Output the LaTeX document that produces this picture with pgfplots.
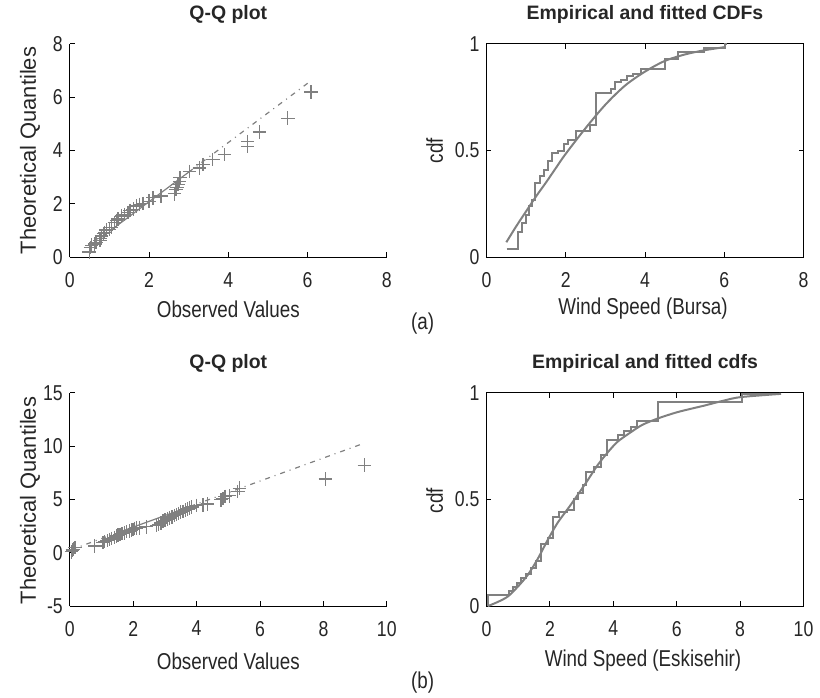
\documentclass[border=0pt]{standalone}
\usepackage{fontspec}
\setmainfont{Liberation Sans}
\newfontfamily\condensed{Liberation Sans}[FakeStretch=0.82]
\usepackage{pgfplots}
\pgfplotsset{compat=1.18}
\definecolor{Gry}{HTML}{808080}

\pgfplotsset{
  panel/.style={scale only axis,width=159pt,height=107pt,anchor=south west,clip=false,
    tick align=inside,major tick length=2.5pt,
    axis line style={line width=0.5pt,black},
    every tick/.style={black,line width=0.5pt},
    tick label style={font=\condensed\fontsize{10.8}{12}\selectfont,text=black!85},
    xticklabel style={yshift=-4pt},
    /pgf/number format/assume math mode=true},
  qq/.style={panel,axis x line*=bottom,axis y line*=left},
  cdf/.style={panel,xtick pos=both,ytick pos=both,ymin=0,ymax=1,ytick={0,0.5,1},
    yticklabels={0,0.5,1}},
  cross/.style={only marks,mark=+,mark size=3.4pt,Gry,mark options={line width=0.65pt}},
  refl/.style={Gry,line width=0.6pt,dash pattern=on 2.5pt off 2.5pt on 0.5pt off 2.5pt},
  fit/.style={Gry,line width=1pt,smooth,no marks},
  emp/.style={Gry,line width=1pt,const plot,no marks}
}

\pgfplotstableread{
x y
0.49 0.19
0.52 0.37
0.55 0.45
0.63 0.50
0.66 0.56
0.76 0.62
0.77 0.70
0.80 0.80
0.85 0.88
0.88 0.93
0.92 1.02
1.00 1.05
1.05 1.12
1.13 1.30
1.18 1.38
1.22 1.43
1.30 1.55
1.38 1.60
1.47 1.67
1.52 1.75
1.60 1.80
1.68 1.92
1.76 1.98
1.85 2.02
2.00 2.10
2.10 2.23
2.30 2.30
2.64 2.38
2.68 2.55
2.70 2.62
2.73 2.73
2.77 2.85
2.78 2.98
3.02 3.22
3.27 3.35
3.36 3.47
3.61 3.66
3.90 3.85
4.49 4.16
4.49 4.34
4.79 4.69
5.50 5.21
6.09 6.20
}\qqa

\pgfplotstableread{
x y
0.05 0.10
0.08 0.25
0.12 0.34
0.16 0.50
0.79 0.65
1.05 0.95
1.10 1.05
1.18 1.15
1.25 1.25
1.32 1.35
1.40 1.45
1.47 1.57
1.52 1.65
1.58 1.72
1.65 1.80
1.73 1.88
1.80 1.98
1.88 2.05
1.95 2.12
1.99 2.19
2.05 2.28
2.10 2.33
2.20 2.35
2.41 2.44
2.73 2.55
2.80 2.65
2.88 2.80
2.94 2.96
3.00 3.05
3.08 3.15
3.15 3.27
3.22 3.38
3.30 3.48
3.36 3.58
3.44 3.70
3.50 3.80
3.57 3.89
3.65 4.00
3.72 4.10
3.78 4.20
3.85 4.30
3.99 4.44
4.20 4.50
4.35 4.57
4.77 4.97
4.83 5.10
4.90 5.28
5.04 5.35
5.30 5.74
5.35 6.05
8.06 6.91
9.29 8.21
}\qqb

\pgfplotstableread{
x y
0.50 0.070
0.75 0.145
1.00 0.215
1.25 0.285
1.50 0.350
1.75 0.418
2.00 0.485
2.50 0.605
3.00 0.715
3.50 0.805
4.00 0.870
4.50 0.920
5.00 0.950
5.50 0.970
6.02 0.985
}\fita

\pgfplotstableread{
x y
0.51 0.04
0.80 0.12
0.90 0.16
1.00 0.20
1.08 0.24
1.15 0.27
1.22 0.35
1.35 0.38
1.45 0.41
1.55 0.45
1.65 0.49
1.80 0.50
1.95 0.53
2.05 0.55
2.25 0.59
2.60 0.62
2.77 0.77
3.15 0.79
3.25 0.82
3.40 0.83
3.55 0.85
3.70 0.86
3.90 0.88
4.50 0.93
4.84 0.96
5.50 0.98
6.02 1.00
6.08 1.00
}\empa

\pgfplotstableread{
x y
0.04 0.0
0.36 0.02
0.67 0.045
0.98 0.09
1.30 0.146
1.61 0.22
1.93 0.31
2.24 0.39
2.56 0.455
2.87 0.52
3.19 0.59
3.50 0.66
3.82 0.72
4.13 0.77
4.55 0.815
4.92 0.85
5.41 0.88
6.04 0.91
6.87 0.94
7.50 0.964
8.03 0.98
9.29 0.995
}\fitb

\pgfplotstableread{
x y
0.04 0.00
0.04 0.05
0.70 0.07
0.85 0.09
0.95 0.11
1.10 0.13
1.25 0.15
1.40 0.18
1.55 0.21
1.72 0.29
1.95 0.32
2.10 0.42
2.30 0.44
2.55 0.45
2.75 0.50
2.90 0.53
3.05 0.57
3.15 0.63
3.40 0.65
3.60 0.71
3.80 0.78
4.15 0.80
4.35 0.82
4.55 0.84
4.75 0.87
5.41 0.956
8.05 0.995
9.29 0.995
}\empb

\begin{document}
\begin{tikzpicture}
\path (0pt,0pt) rectangle (410pt,350pt);

% (a) Bursa
\begin{axis}[qq,at={(35pt,221pt)},xmin=0,xmax=8,ymin=0,ymax=8,
  xtick={0,2,4,6,8},ytick={0,2,4,6,8}]
\addplot[refl] coordinates {(0.49,0.40) (1.0,0.97)};
\addplot[Gry,line width=0.6pt] coordinates {(1.0,0.97) (3.0,3.19)};
\addplot[refl] coordinates {(3.0,3.19) (6.09,6.62)};
\addplot[cross] table {\qqa};
\end{axis}

\begin{axis}[cdf,at={(244pt,221pt)},xmin=0,xmax=8,xtick={0,2,4,6,8}]
\addplot[fit] table {\fita};
\addplot[emp] table {\empa};
\end{axis}

% (b) Eskisehir
\begin{axis}[qq,at={(35pt,46pt)},xmin=0,xmax=10,ymin=-5,ymax=15,
  xtick={0,2,4,6,8,10},ytick={-5,0,5,10,15},yticklabels={-5,0,5,10,15}]
\addplot[refl] coordinates {(0.05,0.30) (1.5,1.87)};
\addplot[Gry,line width=0.6pt] coordinates {(1.5,1.87) (3.8,4.35)};
\addplot[refl] coordinates {(3.8,4.35) (9.29,10.28)};
\addplot[cross] table {\qqb};
\end{axis}

\begin{axis}[cdf,at={(244pt,46pt)},xmin=0,xmax=10,xtick={0,2,4,6,8,10}]
\addplot[fit] table {\fitb};
\addplot[emp] table {\empb};
\end{axis}

% titles and labels
\begin{scope}[every node/.style={inner sep=0pt,text=black!85}]
\node[font=\bfseries\fontsize{9.75}{11}\selectfont] at (114.5pt,342.5pt) {Q-Q plot};
\node[font=\bfseries\fontsize{9.75}{11}\selectfont] at (323.5pt,342.5pt) {Empirical and fitted CDFs};
\node[font=\bfseries\fontsize{9.75}{11}\selectfont] at (114.5pt,167.5pt) {Q-Q plot};
\node[font=\bfseries\fontsize{9.75}{11}\selectfont] at (323.5pt,167.5pt) {Empirical and fitted cdfs};
\node[font=\condensed\fontsize{11.5}{13}\selectfont] at (114.5pt,195pt) {Observed Values};
\node[font=\condensed\fontsize{11.5}{13}\selectfont] at (114.5pt,18.5pt) {Observed Values};
\node[font=\condensed\fontsize{11.5}{13}\selectfont] at (322.5pt,195pt) {Wind Speed (Bursa)};
\node[font=\condensed\fontsize{11.5}{13}\selectfont] at (322.5pt,18.5pt) {Wind Speed (Eskisehir)};
\node[font=\fontsize{11}{13}\selectfont,rotate=90] at (15pt,274.5pt) {Theoretical Quantiles};
\node[font=\fontsize{11}{13}\selectfont,rotate=90] at (15pt,99pt) {Theoretical Quantiles};
\node[font=\condensed\fontsize{11.5}{13}\selectfont,rotate=90] at (218pt,274.5pt) {cdf};
\node[font=\condensed\fontsize{11.5}{13}\selectfont,rotate=90] at (218pt,99pt) {cdf};
\node[font=\condensed\fontsize{11.5}{13}\selectfont] at (212pt,187.5pt) {(a)};
\node[font=\condensed\fontsize{11.5}{13}\selectfont] at (212pt,7.5pt) {(b)};
\end{scope}
\end{tikzpicture}
\end{document}
